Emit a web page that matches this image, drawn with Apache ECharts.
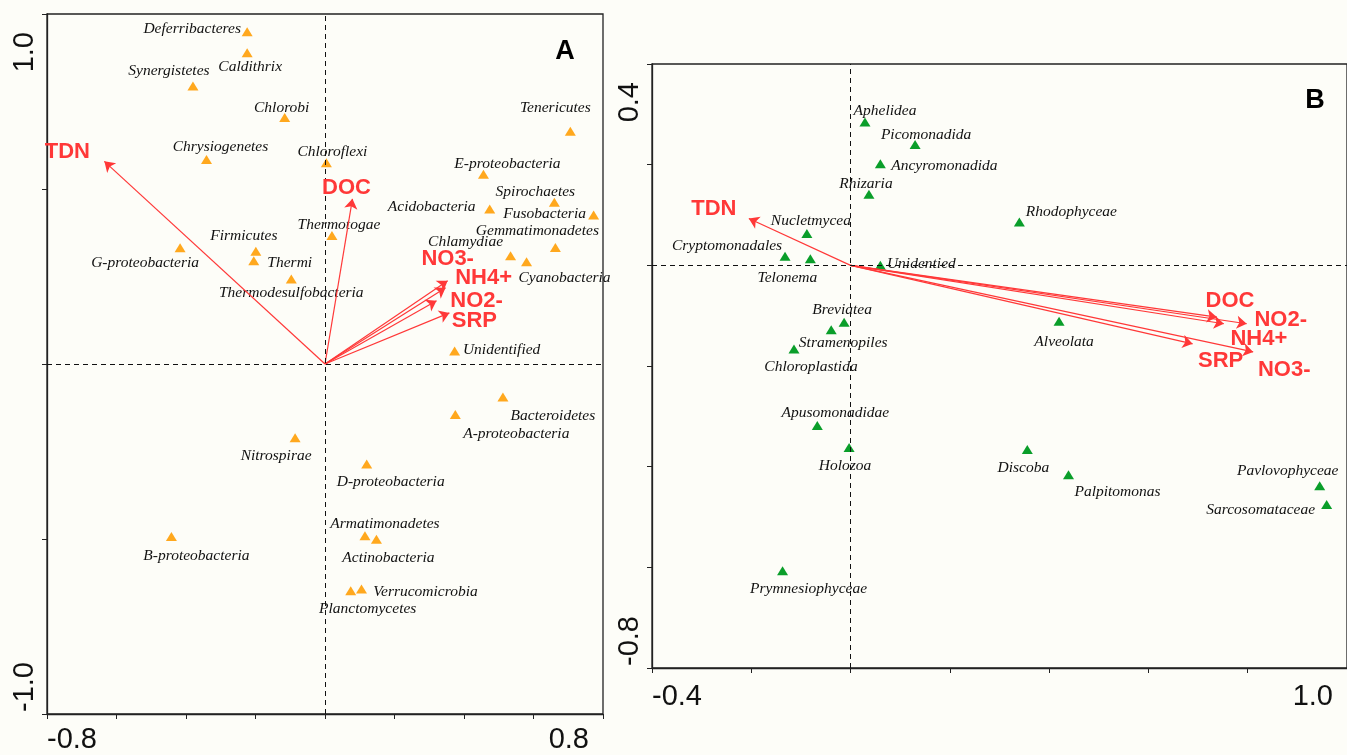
<!DOCTYPE html>
<html>
<head>
<meta charset="utf-8">
<script src="https://cdn.jsdelivr.net/npm/echarts@6/dist/echarts.min.js"></script>
<style>
html, body { margin: 0; padding: 0; background: #fdfdf8; }
#chart { width: 1347px; height: 755px; }
</style>
</head>
<body>
<div id="chart"></div>
<script>
// ---- Panel A: bacterial phyla ----
const phylaA = ['Deferribacteres', 'Caldithrix', 'Synergistetes', 'Chlorobi', 'Chrysiogenetes',
  'Chloroflexi', 'Thermotogae', 'Firmicutes', 'Thermi', 'G-proteobacteria', 'Thermodesulfobacteria',
  'Tenericutes', 'E-proteobacteria', 'Spirochaetes', 'Acidobacteria', 'Fusobacteria',
  'Gemmatimonadetes', 'Chlamydiae', 'Cyanobacteria', 'Unidentified', 'Nitrospirae',
  'B-proteobacteria', 'Bacteroidetes', 'A-proteobacteria', 'D-proteobacteria', 'Armatimonadetes',
  'Actinobacteria', 'Planctomycetes', 'Verrucomicrobia']
const phylaAx = [-0.224, -0.224, -0.380, -0.116, -0.341, 0.004, 0.020, -0.199, -0.205, -0.417, -0.097,
  0.706, 0.456, 0.660, 0.474, 0.773, 0.663, 0.534, 0.580, 0.373, -0.086,
  -0.442, 0.512, 0.375, 0.120, 0.115, 0.148, 0.074, 0.105]
const phylaAy = [0.949, 0.889, 0.794, 0.704, 0.584, 0.575, 0.367, 0.322, 0.295, 0.332, 0.243,
  0.665, 0.542, 0.462, 0.443, 0.426, 0.333, 0.309, 0.292, 0.037, -0.211,
  -0.493, -0.094, -0.144, -0.286, -0.491, -0.501, -0.648, -0.643]

const envA = ['TDN', 'DOC', 'NO3-', 'NH4+', 'NO2-', 'SRP']
const envAx = [-0.635, 0.079, 0.353, 0.347, 0.321, 0.358]
const envAy = [0.579, 0.472, 0.238, 0.218, 0.181, 0.146]

// ---- Panel B: eukaryotic groups ----
const taxaB = ['Aphelidea', 'Picomonadida', 'Ancyromonadida', 'Rhizaria', 'Rhodophyceae',
  'Nucletmycea', 'Cryptomonadales', 'Telonema', 'Unidentied', 'Breviatea', 'Stramenopiles',
  'Chloroplastida', 'Alveolata', 'Apusomonadidae', 'Holozoa', 'Discoba', 'Palpitomonas',
  'Pavlovophyceae', 'Sarcosomataceae', 'Prymnesiophyceae']
const taxaBx = [0.029, 0.130, 0.060, 0.037, 0.340, -0.088, -0.132, -0.081, 0.060, -0.013, -0.039,
  -0.114, 0.420, -0.067, -0.003, 0.356, 0.439, 0.945, 0.959, -0.137]
const taxaBy = [0.285, 0.240, 0.202, 0.141, 0.086, 0.063, 0.018, 0.013, 0.000, -0.113, -0.128,
  -0.166, -0.111, -0.318, -0.362, -0.366, -0.416, -0.438, -0.475, -0.607]

const envB = ['TDN', 'DOC', 'NH4+', 'NO2-', 'SRP', 'NO3-']
const envBx = [-0.205, 0.738, 0.752, 0.798, 0.689, 0.811]
const envBy = [0.093, -0.103, -0.116, -0.116, -0.156, -0.172]

// axis ranges and the end tick labels
const rangeAx = [-0.8, 0.8], rangeAy = [-1.0, 1.0]
const rangeBx = [-0.4, 1.0], rangeBy = [-0.8, 0.4]
const tickLabelsAx = ['-0.8', '0.8'], tickLabelsAy = ['-1.0', '1.0']
const tickLabelsBx = ['-0.4', '1.0'], tickLabelsBy = ['-0.8', '0.4']

// label placement (pixel offsets from the marker centre)
const offA = {
  'Deferribacteres': [-55, -3], 'Caldithrix': [3, 14], 'Synergistetes': [-24, -15],
  'Chlorobi': [-3, -10], 'Chrysiogenetes': [14, -13], 'Chloroflexi': [6, -11],
  'Thermotogae': [7, -11], 'Firmicutes': [-12, -15], 'Thermi': [36, 2],
  'G-proteobacteria': [-35, 15], 'Thermodesulfobacteria': [0, 14], 'Tenericutes': [-15, -23],
  'E-proteobacteria': [24, -10], 'Spirochaetes': [-19, -10], 'Acidobacteria': [-58, -2],
  'Fusobacteria': [-49, -1], 'Gemmatimonadetes': [-18, -17], 'Chlamydiae': [-45, -14],
  'Cyanobacteria': [38, 16], 'Unidentified': [47, -1], 'Nitrospirae': [-19, 18],
  'B-proteobacteria': [25, 19], 'Bacteroidetes': [50, 19], 'A-proteobacteria': [61, 20],
  'D-proteobacteria': [24, 18], 'Armatimonadetes': [20, -12], 'Actinobacteria': [12, 19],
  'Planctomycetes': [17, 18], 'Verrucomicrobia': [64, 3]
}
const offEnvA = { 'TDN': [-37, -9], 'DOC': [-6, -11], 'NO3-': [0, -22], 'NH4+': [38, -10], 'NO2-': [40, 0], 'SRP': [25, 8] }
const offB = {
  'Aphelidea': [20, -11], 'Picomonadida': [11, -10], 'Ancyromonadida': [64, 2], 'Rhizaria': [-3, -10],
  'Rhodophyceae': [52, -10], 'Nucletmycea': [4, -13], 'Cryptomonadales': [-58, -10],
  'Telonema': [-23, 19], 'Unidentied': [41, -1], 'Breviatea': [-2, -12], 'Stramenopiles': [12, 13],
  'Chloroplastida': [17, 18], 'Alveolata': [5, 21], 'Apusomonadidae': [18, -12], 'Holozoa': [-4, 18],
  'Discoba': [-4, 18], 'Palpitomonas': [49, 17], 'Pavlovophyceae': [-32, -15],
  'Sarcosomataceae': [-66, 6], 'Prymnesiophyceae': [26, 18]
}
const offEnvB = { 'TDN': [-35, -10], 'DOC': [13, -16], 'NH4+': [35, 15], 'NO2-': [34, -4], 'SRP': [28, 17], 'NO3-': [31, 18] }

const RED = '#ff3838'
const AXIS = '#222'

const chart = echarts.init(document.getElementById('chart'))

function makeAxis(range, interval, gi) {
  return {
    type: 'value', gridIndex: gi, min: range[0], max: range[1], interval,
    axisLine: { onZero: false, lineStyle: { color: AXIS, width: 1.3 } },
    axisTick: { show: true, length: 5, lineStyle: { color: AXIS } },
    axisLabel: { show: false },
    splitLine: { show: false }
  }
}

function taxaSeries(names, xs, ys, offs, color, gi) {
  return {
    type: 'scatter', xAxisIndex: gi, yAxisIndex: gi,
    symbol: 'triangle', symbolSize: [11, 9],
    itemStyle: { color, opacity: 1 },
    label: {
      show: true, position: 'inside', formatter: p => p.name,
      fontFamily: 'Liberation Serif', fontStyle: 'italic', fontSize: 15.5, color: '#111',
      textBorderWidth: 0, opacity: 1
    },
    data: names.map((n, i) => ({ name: n, value: [xs[i], ys[i]], label: { offset: offs[n] } })),
    markLine: {
      silent: true, symbol: 'none', label: { show: false },
      lineStyle: { color: '#111', type: [5, 4], width: 1 },
      data: [{ xAxis: 0 }, { yAxis: 0 }]
    },
    z: 3
  }
}

function arrowSeries(xs, ys, gi) {
  return {
    type: 'lines', coordinateSystem: 'cartesian2d', xAxisIndex: gi, yAxisIndex: gi,
    symbol: ['none', 'arrow'], symbolSize: 10,
    lineStyle: { color: RED, width: 1.2, opacity: 1 },
    data: xs.map((x, i) => ({ coords: [[0, 0], [x, ys[i]]] })),
    z: 4
  }
}

function envLabelSeries(names, xs, ys, offs, gi) {
  return {
    type: 'scatter', xAxisIndex: gi, yAxisIndex: gi,
    symbolSize: 1, itemStyle: { color: 'rgba(0,0,0,0)', opacity: 1 },
    label: {
      show: true, position: 'inside', formatter: p => p.name,
      fontFamily: 'Liberation Sans', fontWeight: 'bold', fontSize: 22, color: RED,
      textBorderWidth: 0, opacity: 1
    },
    data: names.map((n, i) => ({ name: n, value: [xs[i], ys[i]], label: { offset: offs[n] } })),
    z: 5
  }
}

chart.setOption({
  backgroundColor: '#fdfdf8',
  animation: false,
  grid: [
    { left: 47, top: 14, width: 556, height: 700, show: true, borderColor: AXIS, borderWidth: 1.3, backgroundColor: 'transparent' },
    { left: 652, top: 64, width: 704, height: 604, show: true, borderColor: AXIS, borderWidth: 1.3, backgroundColor: 'transparent' }
  ],
  xAxis: [makeAxis(rangeAx, 0.2, 0), makeAxis(rangeBx, 0.2, 1)],
  yAxis: [makeAxis(rangeAy, 0.5, 0), makeAxis(rangeBy, 0.2, 1)],
  series: [
    taxaSeries(phylaA, phylaAx, phylaAy, offA, '#ffa81e', 0),
    arrowSeries(envAx, envAy, 0),
    envLabelSeries(envA, envAx, envAy, offEnvA, 0),
    taxaSeries(taxaB, taxaBx, taxaBy, offB, '#0a9e2a', 1),
    arrowSeries(envBx, envBy, 1),
    envLabelSeries(envB, envBx, envBy, offEnvB, 1)
  ]
})

// end tick labels, placed from the axis scales
function tickText(text, x, y, align, rotated) {
  return {
    type: 'text', x, y, rotation: rotated ? Math.PI / 2 : 0, silent: true,
    style: { text, fill: '#111', fontFamily: 'Liberation Sans', fontSize: 29, align, verticalAlign: 'middle' }
  }
}

function endLabels(gi, rx, ry, lx, ly, below) {
  const lo = chart.convertToPixel({ gridIndex: gi }, [rx[0], ry[0]])
  const hi = chart.convertToPixel({ gridIndex: gi }, [rx[1], ry[1]])
  return [
    tickText(lx[0], lo[0], lo[1] + below, 'left', false),
    tickText(lx[1], hi[0] - 14, lo[1] + below, 'right', false),
    tickText(ly[0], lo[0] - 22, lo[1] - 2, 'left', true),
    tickText(ly[1], lo[0] - 22, hi[1] + 18, 'right', true)
  ]
}

chart.setOption({
  graphic: [
    ...endLabels(0, rangeAx, rangeAy, tickLabelsAx, tickLabelsAy, 26),
    ...endLabels(1, rangeBx, rangeBy, tickLabelsBx, tickLabelsBy, 29),
    { type: 'text', x: 565, y: 52, silent: true,
      style: { text: 'A', fill: '#000', fontFamily: 'Liberation Sans', fontWeight: 'bold', fontSize: 27, align: 'center', verticalAlign: 'middle' } },
    { type: 'text', x: 1315, y: 101, silent: true,
      style: { text: 'B', fill: '#000', fontFamily: 'Liberation Sans', fontWeight: 'bold', fontSize: 27, align: 'center', verticalAlign: 'middle' } }
  ]
})
</script>
</body>
</html>
